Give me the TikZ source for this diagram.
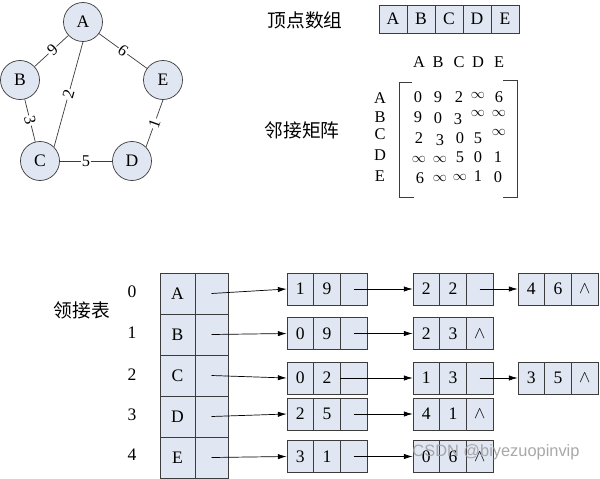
\documentclass[tikz,border=0pt]{standalone}
\usepackage{fontspec}
\setmainfont{Liberation Serif}
\newfontfamily\cjk{Noto Sans CJK SC}
\newfontfamily\wmfont{Liberation Sans}
\usetikzlibrary{arrows.meta}
\definecolor{cellfill}{RGB}{225,231,242}
\definecolor{linegray}{RGB}{60,60,60}
\newcommand\listnode[6]{%
  \node[lc] (#1a) at ({#2+13.35},#3) {#4};
  \node[lc] (#1b) at ({#2+40},#3) {#5};
  \node[lc] (#1c) at ({#2+66.7},#3) {#6};}
\newcommand\ment[4]{\node[mtx] (#1) at (#2,#3) {#4};}
\newcommand\myinf{{\fontsize{12}{12}\selectfont$\infty$}}
\begin{document}
\begin{tikzpicture}[x=0.03cm,y=-0.03cm,
 every node/.style={inner sep=0pt},
 vert/.style={circle,draw=linegray,line width=0.6pt,fill=cellfill,minimum size=1.17cm,font=\fontsize{15}{15}\selectfont},
 edge/.style={draw=linegray,line width=0.6pt},
 wlab/.style={fill=white,inner sep=1pt,sloped,font=\fontsize{14}{14}\selectfont},
 acell/.style={draw=linegray,line width=0.6pt,fill=cellfill,minimum width=0.84cm,minimum height=0.84cm,font=\fontsize{15}{15}\selectfont},
 vcell/.style={draw=linegray,line width=0.6pt,fill=cellfill,minimum width=1.05cm,minimum height=1.23cm,font=\fontsize{15}{15}\selectfont},
 pcell/.style={draw=linegray,line width=0.6pt,fill=cellfill,minimum width=0.99cm,minimum height=1.23cm},
 lc/.style={draw=linegray,line width=0.6pt,fill=cellfill,minimum width=0.8cm,minimum height=0.96cm,font=\fontsize{15}{15}\selectfont},
 mtx/.style={font=\fontsize{14}{14}\selectfont},
 cjklab/.style={font=\cjk\fontsize{16}{16}\selectfont},
 idx/.style={font=\fontsize{15}{15}\selectfont},
 arr/.style={draw=black,line width=0.6pt,-{Latex[length=7.5pt,width=4.5pt]}},
 bracket/.style={draw=linegray,line width=0.7pt}
]
\useasboundingbox[fill=white] (0,0) rectangle (600,478);

% ---- graph ----
\node[vert] (A) at (83,22) {A};
\node[vert] (B) at (20,80) {B};
\node[vert] (E) at (163,80) {E};
\node[vert] (C) at (40,161) {C};
\node[vert] (D) at (132,161) {D};
\draw[edge] (A) -- node[wlab,pos=0.47]{9} (B);
\draw[edge] (A) -- node[wlab]{6} (E);
\draw[edge] (A.south) -- node[wlab]{2} (C.north east);
\draw[edge] (B) -- node[wlab]{3} (C);
\draw[edge] (E.south) -- node[wlab]{1} (D.north east);
\draw[edge] (C) -- node[wlab]{5} (D);

% ---- vertex array ----
\node[cjklab] (t1) at (305,20) {顶点数组};
\foreach \L [count=\i from 0] in {A,B,C,D,E}
  \node[acell] (arr\i) at ({393+28*\i},19) {\L};

% ---- adjacency matrix ----
\node[cjklab] (t2) at (302,130) {邻接矩阵};
\foreach \L/\x in {A/419,B/438,C/459,D/478,E/499}
  \node[mtx] (h\L) at (\x,62) {\L};
\foreach \L/\y in {A/98,B/117,C/134,D/155,E/176}
  \node[mtx] (r\L) at (380,\y) {\L};
\ment{m11}{418}{97}{0}\ment{m12}{438}{97}{9}\ment{m13}{459}{97}{2}\ment{m14}{478}{95}{\myinf}\ment{m15}{499}{97}{6}
\ment{m21}{418}{117}{9}\ment{m22}{438}{118}{0}\ment{m23}{458}{119}{3}\ment{m24}{478}{113}{\myinf}\ment{m25}{499}{113}{\myinf}
\ment{m31}{419}{138}{2}\ment{m32}{440}{140}{3}\ment{m33}{460}{138}{0}\ment{m34}{478}{138}{5}\ment{m35}{499}{132}{\myinf}
\ment{m41}{419}{159}{\myinf}\ment{m42}{440}{159}{\myinf}\ment{m43}{460}{157}{5}\ment{m44}{478}{157}{0}\ment{m45}{498}{157}{1}
\ment{m51}{420}{178}{6}\ment{m52}{440}{178}{\myinf}\ment{m53}{460}{177}{\myinf}\ment{m54}{478}{176}{1}\ment{m55}{498}{177}{0}
\draw[bracket] (412,82) -- (399,82) -- (399,197) -- (414,197);
\draw[bracket] (503,80) -- (517,80) -- (517,197) -- (503,197);

% ---- adjacency list ----
\node[cjklab] (t3) at (82,310) {领接表};
\foreach \n/\y in {0/292,1/333,2/375,3/415,4/455}
  \node[idx] (i\n) at (132,\y) {\n};
\foreach \L/\n/\y in {A/0/293.5,B/1/334.5,C/2/375.5,D/3/416.5,E/4/457.5}{
  \node[vcell] (v\n) at (177.5,\y) {\L};
  \node[pcell] (p\n) at (211.5,\y) {};
}
\listnode{l0}{287}{289}{1}{9}{}
\listnode{m0}{413}{289}{2}{2}{}
\listnode{n0}{518}{289}{4}{6}{$\wedge$}
\listnode{l1}{287}{333.5}{0}{9}{}
\listnode{m1}{413}{333.5}{2}{3}{$\wedge$}
\listnode{l2}{287}{378}{0}{2}{}
\listnode{m2}{413}{378}{1}{3}{}
\listnode{n2}{518}{378}{3}{5}{$\wedge$}
\listnode{l3}{287}{414}{2}{5}{}
\listnode{m3}{413}{414}{4}{1}{$\wedge$}
\listnode{l4}{287}{456.5}{3}{1}{}
\listnode{m4}{413}{456.5}{0}{6}{$\wedge$}

\draw[arr] (p0.center) -- (l0a.west);
\draw[arr] (p1.center) -- (l1a.west);
\draw[arr] (p2.center) -- (l2a.west);
\draw[arr] (p3.center) -- (l3a.west);
\draw[arr] (p4.center) -- (l4a.west);
\draw[arr] (l0c.center) -- (m0a.west);
\draw[arr] (m0c.center) -- (n0a.west);
\draw[arr] (l1c.center) -- (m1a.west);
\draw[arr] (l2c.west) -- (m2a.west);
\draw[arr] (m2c.center) -- (n2a.west);
\draw[arr] (l3c.center) -- (m3a.west);
\draw[arr] (l4c.center) -- (m4a.west);

% ---- watermark ----
\node[font=\wmfont\fontsize{14}{14}\selectfont,text=gray!75,opacity=0.9] (wm) at (496,452) {CSDN @biyezuopinvip};
\end{tikzpicture}
\end{document}
